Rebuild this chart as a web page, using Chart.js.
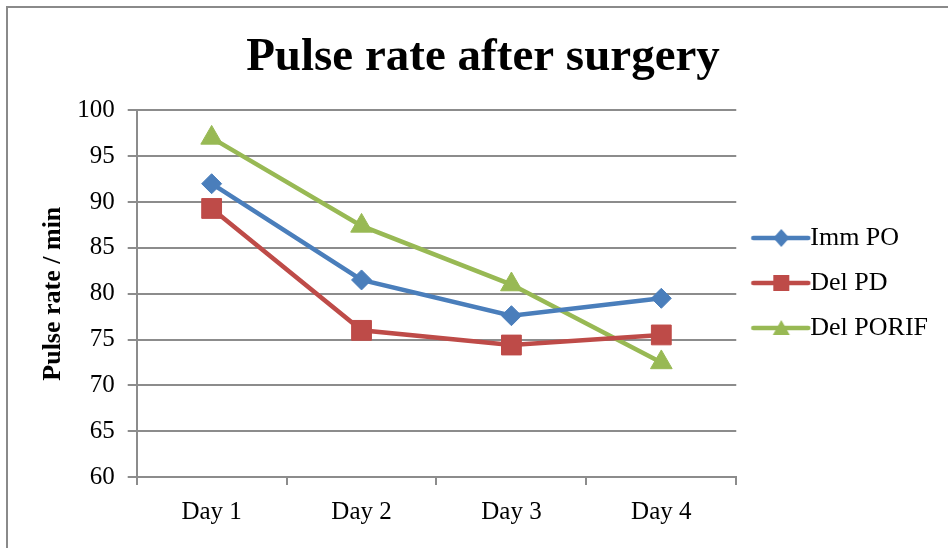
<!doctype html>
<html lang="en">
<head>
<meta charset="utf-8">
<title>Pulse rate after surgery</title>
<script src="https://cdn.jsdelivr.net/npm/chart.js@4"></script>
<style>
  html, body { margin: 0; padding: 0; background: #fff; overflow: hidden; }
  #wrap { position: relative; width: 948px; height: 548px; }
  #frame {
    position: absolute; left: 6px; top: 6px; right: 0; bottom: 0;
    border-top: 2px solid #8a8a8a; border-left: 2px solid #8a8a8a;
    pointer-events: none;
  }
</style>
</head>
<body>
<div id="wrap">
  <canvas id="chart" width="948" height="548"></canvas>
  <div id="frame"></div>
</div>
<script>
const Days = ['Day 1', 'Day 2', 'Day 3', 'Day 4']
const ImmPO = [92.0, 81.5, 77.6, 79.5]
const DelPD = [89.3, 76.0, 74.4, 75.5]
const DelPORIF = [97.0, 87.4, 81.0, 72.5]
const SeriesNames = ['Imm PO', 'Del PD', 'Del PORIF']
const YMin = 60, YMax = 100, YStep = 5

const Colors = ['#4a7ebb', '#be4b48', '#98b954']
const Styles = ['rectRot', 'rect', 'triangle']
const Radii = [10, 14, 12.5]
const Serif = '"Liberation Serif", "Times New Roman", serif'
const Grid = '#8c8c8c'

// legend symbol: short line with the marker on it
function LegendSymbol(color, style) {
    const c = document.createElement('canvas')
    c.width = 70
    c.height = 30
    const g = c.getContext('2d')
    g.strokeStyle = color
    g.fillStyle = color
    g.lineWidth = 4.5
    g.lineCap = 'round'
    g.beginPath()
    g.moveTo(12, 15)
    g.lineTo(67, 15)
    g.stroke()
    g.beginPath()
    if (style === 'rectRot') {
        g.moveTo(40, 6); g.lineTo(48, 15); g.lineTo(40, 24); g.lineTo(32, 15)
    } else if (style === 'rect') {
        g.rect(32, 7, 16, 16)
    } else {
        g.moveTo(40, 7); g.lineTo(48.5, 22); g.lineTo(31.5, 22)
    }
    g.closePath()
    g.fill()
    return c
}

const Values = [ImmPO, DelPD, DelPORIF]

new Chart(document.getElementById('chart'), {
    type: 'line',
    data: {
        labels: Days,
        datasets: SeriesNames.map((name, i) => ({
            label: name,
            data: Values[i],
            borderColor: Colors[i],
            backgroundColor: Colors[i],
            borderWidth: 4.5,
            pointStyle: Styles[i],
            pointRadius: Radii[i],
            pointBackgroundColor: Colors[i],
            pointBorderColor: Colors[i],
            pointBorderWidth: 1,
            tension: 0
        }))
    },
    options: {
        responsive: false,
        animation: false,
        events: [],
        layout: { padding: { left: 28, right: 10, top: 0, bottom: 9 } },
        plugins: {
            tooltip: { enabled: false },
            title: {
                display: true,
                text: 'Pulse rate after surgery',
                color: '#000',
                font: { family: Serif, size: 47, weight: 'bold' },
                padding: { top: 30, bottom: 24 }
            },
            legend: {
                position: 'right',
                title: {
                    display: true,
                    text: ' ',
                    font: { size: 10 },
                    padding: { top: 0, bottom: 15 }
                },
                labels: {
                    color: '#000',
                    font: { family: Serif, size: 26 },
                    usePointStyle: true,
                    pointStyleWidth: 42,
                    padding: 19,
                    generateLabels: (chart) => chart.data.datasets.map((ds, i) => ({
                        text: ds.label,
                        pointStyle: LegendSymbol(Colors[i], Styles[i]),
                        fillStyle: Colors[i],
                        strokeStyle: Colors[i],
                        lineWidth: 0,
                        hidden: false,
                        datasetIndex: i,
                        fontColor: '#000'
                    }))
                }
            }
        },
        scales: {
            x: {
                offset: true,
                grid: {
                    display: true,
                    offset: true,
                    drawOnChartArea: false,
                    drawTicks: true,
                    tickLength: 8,
                    color: Grid,
                    lineWidth: 2
                },
                border: { display: true, color: Grid, width: 2 },
                ticks: {
                    color: '#000',
                    font: { family: Serif, size: 25 },
                    padding: 12,
                    maxRotation: 0
                }
            },
            y: {
                min: YMin,
                max: YMax,
                ticks: {
                    stepSize: YStep,
                    color: '#000',
                    font: { family: Serif, size: 25 },
                    padding: 13
                },
                grid: {
                    color: Grid,
                    lineWidth: 2,
                    tickLength: 9
                },
                border: { display: true, color: Grid, width: 2 },
                title: {
                    display: true,
                    text: 'Pulse rate / min',
                    color: '#000',
                    font: { family: Serif, size: 26, weight: 'bold' },
                    padding: { top: 10, bottom: -5 }
                }
            }
        }
    }
})
</script>
</body>
</html>
